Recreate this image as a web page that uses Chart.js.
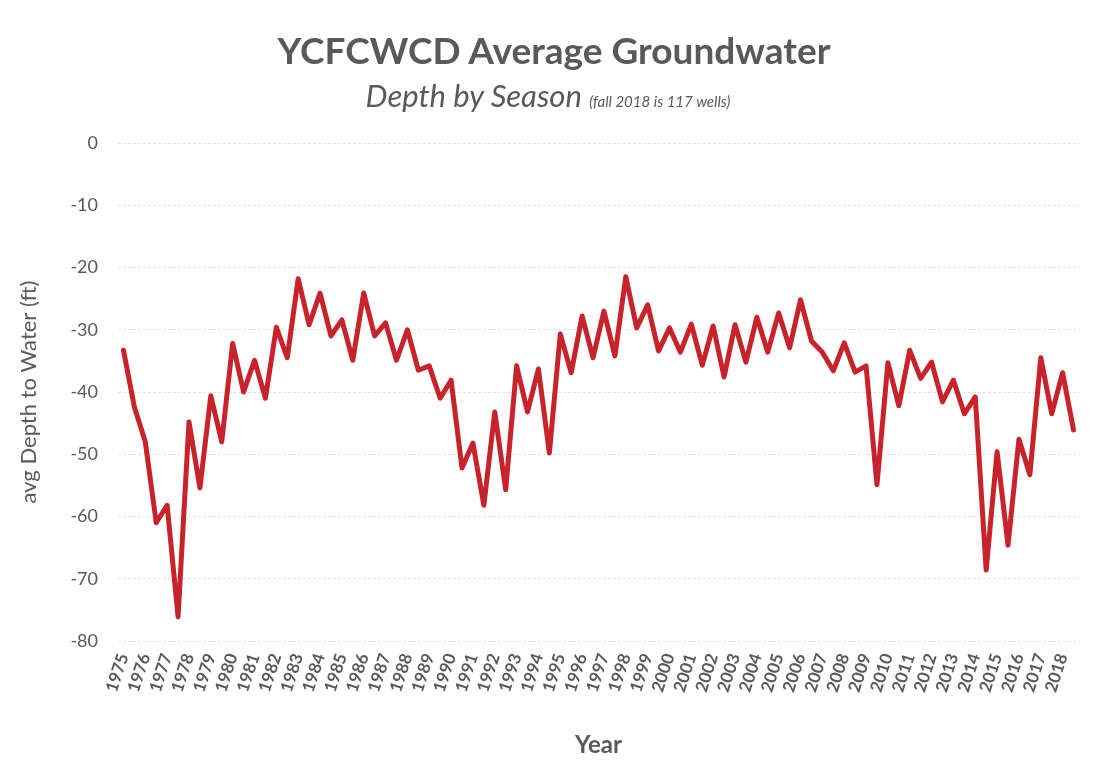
<!DOCTYPE html>
<html>
<head>
<meta charset="utf-8">
<script src="https://cdn.jsdelivr.net/npm/chart.js@4/dist/chart.umd.min.js"></script>
<style>
    html, body { margin: 0; padding: 0; background: #fff; }
    #wrap { position: relative; width: 1096px; height: 772px; }
    #title { position: absolute; left: 0; top: 27px; width: 1096px; text-align: center;
        font: bold 37px Lato, sans-serif; color: #595959; padding-left: 12px; box-sizing: border-box; }
    #subtitle { position: absolute; left: 0; top: 76px; width: 1096px; text-align: center;
        font: italic 31px Lato, sans-serif; color: #595959; }
    #subtitle small { font-size: 15px; }
</style>
</head>
<body>
<div id="wrap">
    <canvas id="gwChart" width="1096" height="772"></canvas>
    <div id="title">YCFCWCD Average Groundwater</div>
    <div id="subtitle">Depth by Season <small>(fall 2018 is 117 wells)</small></div>
</div>
<script>
// Years on the axis; each year has a spring and a fall reading
const years = [1975, 1976, 1977, 1978, 1979, 1980, 1981, 1982, 1983, 1984, 1985,
    1986, 1987, 1988, 1989, 1990, 1991, 1992, 1993, 1994, 1995, 1996, 1997, 1998,
    1999, 2000, 2001, 2002, 2003, 2004, 2005, 2006, 2007, 2008, 2009, 2010, 2011,
    2012, 2013, 2014, 2015, 2016, 2017, 2018];

// avg depth to water (ft), spring / fall pairs
const depth = [
    -33.3, -42.4,  -48.0, -61.0,  -58.2, -76.1,  -44.8, -55.4,  -40.6, -48.0,
    -32.2, -40.0,  -34.9, -41.0,  -29.6, -34.5,  -21.8, -29.2,  -24.1, -31.0,
    -28.4, -34.9,  -24.1, -31.0,  -28.9, -34.9,  -30.0, -36.5,  -35.8, -41.0,
    -38.1, -52.2,  -48.2, -58.2,  -43.2, -55.7,  -35.8, -43.2,  -36.3, -49.8,
    -30.7, -36.9,  -27.8, -34.5,  -27.0, -34.2,  -21.5, -29.7,  -26.0, -33.4,
    -29.7, -33.6,  -29.1, -35.7,  -29.4, -37.6,  -29.2, -35.2,  -28.0, -33.6,
    -27.3, -32.9,  -25.2, -31.8,  -33.6, -36.6,  -32.1, -36.8,  -35.8, -54.9,
    -35.3, -42.2,  -33.3, -37.8,  -35.2, -41.6,  -38.1, -43.5,  -40.8, -68.6,
    -49.6, -64.6,  -47.6, -53.3,  -34.5, -43.5,  -36.9, -46.1
];

const yTicks = [0, -10, -20, -30, -40, -50, -60, -70, -80];

// year label on the spring point, blank on the fall point
const labels = years.flatMap(y => [String(y), '']);

const textGray = '#595959';

new Chart(document.getElementById('gwChart'), {
    type: 'line',
    data: {
        labels: labels,
        datasets: [{
            label: 'avg Depth to Water',
            data: depth,
            borderColor: '#C8232B',
            borderWidth: 5,
            borderJoinStyle: 'round',
            borderCapStyle: 'round',
            pointRadius: 0,
            tension: 0,
            fill: false
        }]
    },
    options: {
        responsive: false,
        animation: false,
        layout: { padding: { top: 143, right: 17, bottom: 12, left: 12 } },
        plugins: {
            legend: { display: false },
            tooltip: { enabled: false }
        },
        scales: {
            x: {
                offset: true,
                afterFit: axis => { axis.height = 119; },
                grid: { display: false },
                border: { display: false },
                ticks: {
                    autoSkip: false,
                    maxRotation: 72,
                    minRotation: 72,
                    padding: 2,
                    color: textGray,
                    font: { family: 'Lato, sans-serif', size: 17, weight: 'bold' }
                },
                title: {
                    display: true,
                    text: 'Year',
                    color: textGray,
                    padding: { top: 10, bottom: 0 },
                    font: { family: 'Lato, sans-serif', size: 24, weight: 'bold' }
                }
            },
            y: {
                min: -80,
                max: 0,
                afterBuildTicks: axis => { axis.ticks = yTicks.map(v => ({ value: v })); },
                afterFit: axis => { axis.width = 106; },
                grid: { color: '#e2e2e2', drawTicks: false },
                border: { display: false, dash: [3, 2] },
                ticks: {
                    padding: 20,
                    color: textGray,
                    font: { family: 'Lato, sans-serif', size: 18 }
                },
                title: {
                    display: true,
                    text: 'avg Depth to Water (ft)',
                    color: textGray,
                    padding: { bottom: 0 },
                    font: { family: 'Lato, sans-serif', size: 22 }
                }
            }
        }
    }
});
</script>
</body>
</html>
